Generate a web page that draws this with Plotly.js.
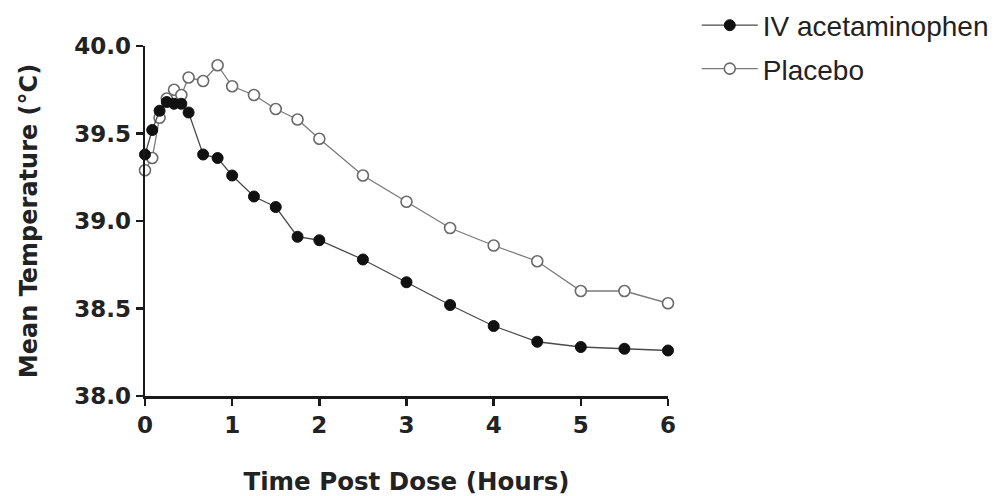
<!DOCTYPE html>
<html>
<head>
<meta charset="utf-8">
<script src="https://cdn.plot.ly/plotly-3.0.1.min.js"></script>
<style>html,body{margin:0;padding:0;background:#fff;}#chart{width:995px;height:496px;}</style>
</head>
<body>
<div id="chart"></div>
<script>
const timeHours = [0, 0.083, 0.167, 0.25, 0.333, 0.417, 0.5, 0.667, 0.833, 1, 1.25, 1.5, 1.75, 2, 2.5, 3, 3.5, 4, 4.5, 5, 5.5, 6];
const ivAcetaminophen = [39.38, 39.52, 39.63, 39.68, 39.67, 39.67, 39.62, 39.38, 39.36, 39.26, 39.14, 39.08, 38.91, 38.89, 38.78, 38.65, 38.52, 38.40, 38.31, 38.28, 38.27, 38.26];
const placebo = [39.29, 39.36, 39.59, 39.70, 39.75, 39.72, 39.82, 39.80, 39.89, 39.77, 39.72, 39.64, 39.58, 39.47, 39.26, 39.11, 38.96, 38.86, 38.77, 38.60, 38.60, 38.53];
const xTicks = [0, 1, 2, 3, 4, 5, 6];
const yTicks = [38.0, 38.5, 39.0, 39.5, 40.0];
const yTickLabels = ["38.0", "38.5", "39.0", "39.5", "40.0"];

const traces = [
  {
    x: timeHours, y: placebo, name: "Placebo", type: "scatter", mode: "lines+markers",
    legendgroup: "b", legendrank: 2,
    line: {color: "#7a7a7a", width: 1.3},
    marker: {symbol: "circle", size: 11, color: "#ffffff", line: {color: "#6a6a6a", width: 1.6}},
    cliponaxis: false
  },
  {
    x: timeHours, y: ivAcetaminophen, name: "IV acetaminophen", type: "scatter", mode: "lines+markers",
    legendgroup: "a", legendrank: 1,
    line: {color: "#4a4a4a", width: 1.3},
    marker: {symbol: "circle", size: 11, color: "#111111", line: {color: "#111111", width: 1}},
    cliponaxis: false
  }
];

const layout = {
  width: 995, height: 496,
  margin: {l: 145, r: 327, t: 46, b: 100, autoexpand: false},
  paper_bgcolor: "#ffffff", plot_bgcolor: "#ffffff",
  font: {family: "DejaVu Sans, sans-serif", color: "#222"},
  showlegend: true,
  legend: {
    x: 1.055, xanchor: "left", y: 1.13, yanchor: "top",
    font: {size: 28, color: "#222", family: "Liberation Sans, Arial, sans-serif"},
    traceorder: "grouped", tracegroupgap: 4, itemwidth: 56,
    bgcolor: "rgba(0,0,0,0)"
  },
  xaxis: {
    range: [0, 6], tickvals: xTicks, ticktext: xTicks.map(String),
    showgrid: false, zeroline: false, showline: true, linecolor: "#1a1a1a", linewidth: 2.5,
    ticks: "outside", ticklen: 7, tickwidth: 2.5, tickcolor: "#1a1a1a",
    tickfont: {size: 23, family: "DejaVu Sans, sans-serif", weight: "bold", color: "#222"},
    title: {text: "<b>Time Post Dose (Hours)</b>", font: {size: 24.5, family: "DejaVu Sans, sans-serif", color: "#222"}, standoff: 36},
    fixedrange: true
  },
  yaxis: {
    range: [38, 40], tickvals: yTicks, ticktext: yTickLabels,
    showgrid: false, zeroline: false, showline: true, linecolor: "#1a1a1a", linewidth: 2.5,
    ticks: "outside", ticklen: 7, tickwidth: 2.5, tickcolor: "#1a1a1a",
    tickfont: {size: 23, family: "DejaVu Sans, sans-serif", weight: "bold", color: "#222"},
    title: {text: "<b>Mean Temperature (°C)</b>", font: {size: 24, family: "DejaVu Sans, sans-serif", color: "#222"}, standoff: 30},
    fixedrange: true
  }
};

Plotly.newPlot("chart", traces, layout, {displayModeBar: false, staticPlot: true});
</script>
</body>
</html>
